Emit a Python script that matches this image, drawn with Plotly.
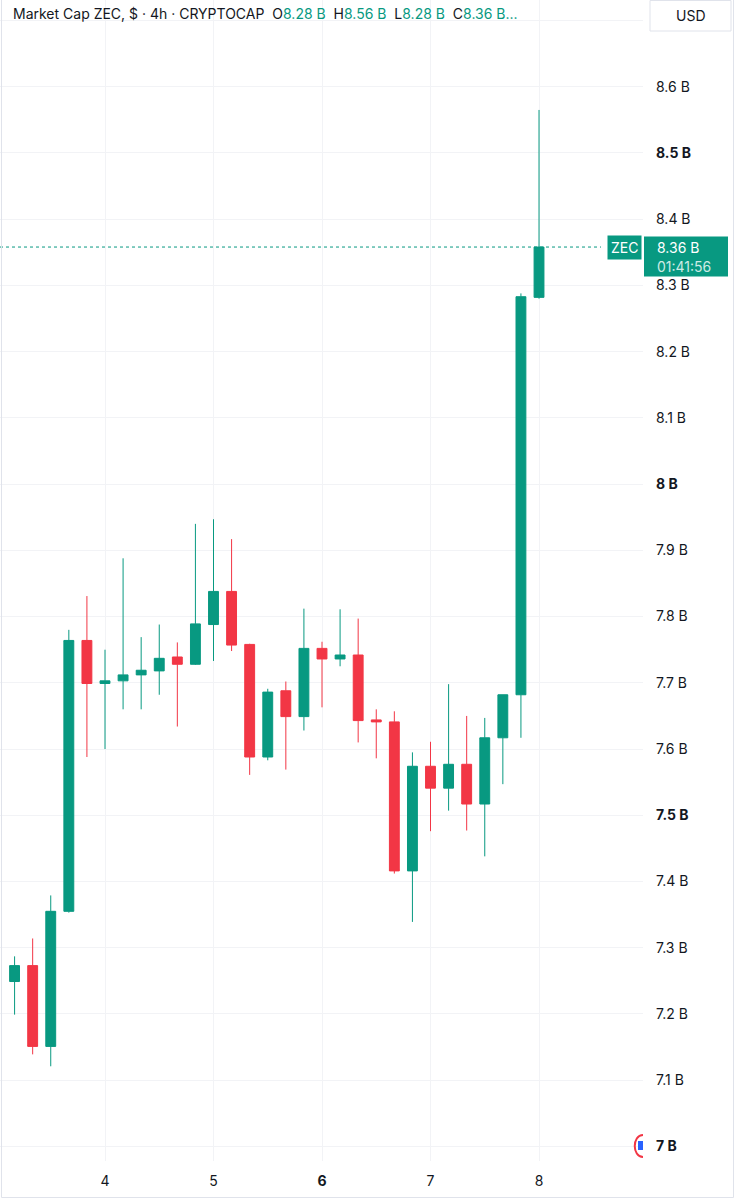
import plotly.graph_objects as go
import pandas as pd

# ---------------- data (values in billions USD) ----------------
start_time = "2025-11-03 04:00"
n_candles = 30
opens = [7.249, 7.273, 7.151, 7.355, 7.764, 7.699, 7.703, 7.712, 7.718, 7.739,
         7.728, 7.788, 7.838, 7.758, 7.588, 7.688, 7.649, 7.752, 7.736, 7.742,
         7.644, 7.641, 7.416, 7.574, 7.541, 7.577, 7.517, 7.617, 7.682, 8.282]
highs = [7.287, 7.314, 7.379, 7.780, 7.831, 7.750, 7.888, 7.769, 7.788, 7.761,
         7.940, 7.947, 7.917, 7.759, 7.691, 7.702, 7.812, 7.762, 7.811, 7.797,
         7.660, 7.657, 7.595, 7.611, 7.698, 7.650, 7.647, 7.682, 8.288, 8.565]
lows = [7.199, 7.139, 7.121, 7.353, 7.588, 7.600, 7.660, 7.660, 7.682, 7.634,
        7.727, 7.733, 7.748, 7.561, 7.583, 7.569, 7.628, 7.663, 7.725, 7.610,
        7.586, 7.412, 7.339, 7.476, 7.507, 7.477, 7.438, 7.547, 7.617, 8.280]
closes = [7.273, 7.151, 7.355, 7.764, 7.699, 7.703, 7.712, 7.719, 7.737, 7.728,
          7.789, 7.838, 7.757, 7.588, 7.686, 7.649, 7.752, 7.736, 7.742, 7.643,
          7.641, 7.416, 7.574, 7.541, 7.577, 7.517, 7.617, 7.682, 8.283, 8.358]

y_tick_vals = [7.0, 7.1, 7.2, 7.3, 7.4, 7.5, 7.6, 7.7, 7.8, 7.9, 8.0, 8.1, 8.2, 8.3, 8.4, 8.5, 8.6, 8.7]
y_tick_text = ["<b>7 B</b>", "7.1 B", "7.2 B", "7.3 B", "7.4 B", "<b>7.5 B</b>", "7.6 B", "7.7 B",
               "7.8 B", "7.9 B", "<b>8 B</b>", "8.1 B", "8.2 B", "8.3 B", "8.4 B", "<b>8.5 B</b>",
               "8.6 B", ""]
x_tick_days = ["2025-11-04", "2025-11-05", "2025-11-06", "2025-11-07", "2025-11-08"]
x_tick_text = ["4", "5", "<b>6</b>", "7", "8"]

header_title = "Market Cap ZEC, $ · 4h · CRYPTOCAP"
header_ohlc = [("O", "8.28 B"), ("H", "8.56 B"), ("L", "8.28 B"), ("C", "8.36 B...")]
last_price = closes[-1]
last_price_text = "8.36 B"
countdown_text = "01:41:56"
symbol_text = "ZEC"
currency_text = "USD"

# ---------------- style ----------------
GREEN = "#089981"
RED = "#F23645"
TEXT = "#131722"
GRID = "#F2F3F6"
FONT = "Inter"

W, H = 735, 1199
PANE_W, PANE_H = 643, 1161
YMIN, YMAX = 6.978, 8.731

times = pd.date_range(pd.Timestamp(start_time), periods=n_candles, freq="4h")
step = pd.Timedelta(hours=4)
x_range = [times[0] - step * 0.806, times[0] + step * 34.75]

fig = go.Figure()
fig.add_trace(go.Candlestick(
    x=times, open=opens, high=highs, low=lows, close=closes,
    increasing=dict(line=dict(color=GREEN, width=1), fillcolor=GREEN),
    decreasing=dict(line=dict(color=RED, width=1), fillcolor=RED),
    whiskerwidth=0, hoverinfo="skip", showlegend=False,
))


def px_x(p):
    return p / PANE_W


def px_y(p):
    return (PANE_H - p) / PANE_H


def val_y(v):
    return (v - YMIN) / (YMAX - YMIN)


shapes = []
# last price dotted line
shapes.append(dict(type="line", xref="paper", yref="y", x0=0, x1=px_x(601), y0=last_price, y1=last_price,
                   line=dict(color=GREEN, width=1, dash="dot"), layer="above"))
# price label background on axis
py = val_y(last_price)
shapes.append(dict(type="rect", xref="paper", yref="paper", x0=px_x(644), x1=px_x(728),
                   y0=py - 29.5 / PANE_H, y1=py + 10.5 / PANE_H, fillcolor=GREEN, line=dict(width=0),
                   layer="above"))
# USD button
ux0, ux1, uy0, uy1 = px_x(650), px_x(731), px_y(31), px_y(0.5)
shapes.append(dict(type="path", xref="paper", yref="paper",
                   path=f"M {ux0},{uy1} L {ux1},{uy1} L {ux1},{uy0} L {ux0},{uy0} Z",
                   fillcolor="white", line=dict(color="#E0E3EB", width=1), layer="above"))
# outer border (left / bottom / right)
shapes.append(dict(type="path", xref="paper", yref="paper",
                   path=f"M {px_x(1.5)},{px_y(0)} L {px_x(1.5)},{px_y(1197.5)} L {px_x(733.5)},{px_y(1197.5)} L {px_x(733.5)},{px_y(0)}",
                   line=dict(color="#E0E3EB", width=1), layer="above"))
# partial logo at bottom right of pane
shapes.append(dict(type="path", xref="paper", yref="paper",
                   path=f"M {px_x(643)},{px_y(1135)} C {px_x(632)},{px_y(1135)} {px_x(632)},{px_y(1157)} {px_x(643)},{px_y(1157)}",
                   line=dict(color=RED, width=2), layer="above"))
shapes.append(dict(type="rect", xref="paper", yref="paper", x0=px_x(638), x1=px_x(643),
                   y0=px_y(1150), y1=px_y(1141), fillcolor="#2962FF", line=dict(width=0), layer="above"))

header = header_title + "\u00a0\u00a0"
header += "\u00a0\u00a0".join(f"{k}<span style='color:{GREEN}'>{v}</span>" for k, v in header_ohlc)

annotations = [
    dict(xref="paper", yref="paper", x=px_x(11), y=px_y(14), xanchor="left", yanchor="middle",
         text=header, showarrow=False, font=dict(family=FONT, size=14, color=TEXT)),
    dict(xref="paper", yref="paper", x=px_x(690.5), y=px_y(15.5), xanchor="center", yanchor="middle",
         text=currency_text, showarrow=False, font=dict(family=FONT, size=14, color=TEXT)),
    dict(xref="paper", yref="y", x=px_x(642), y=last_price, xanchor="right", yanchor="middle",
         text=symbol_text, showarrow=False, bgcolor=GREEN, borderpad=3,
         font=dict(family=FONT, size=14, color="white")),
    dict(xref="paper", yref="paper", x=px_x(655), y=py + 0 / PANE_H, xanchor="left", yanchor="middle",
         text=last_price_text, showarrow=False, font=dict(family=FONT, size=14, color="white")),
    dict(xref="paper", yref="paper", x=px_x(655), y=py - 19 / PANE_H, xanchor="left", yanchor="middle",
         text=countdown_text, showarrow=False, font=dict(family=FONT, size=14, color="#CDEBE5")),
]

fig.update_layout(
    width=W, height=H,
    margin=dict(l=0, r=W - PANE_W, t=0, b=H - PANE_H, pad=0),
    paper_bgcolor="white", plot_bgcolor="white",
    boxgap=0.22,
    showlegend=False,
    hovermode=False,
    font=dict(family=FONT, size=14, color=TEXT),
    shapes=shapes, annotations=annotations,
    xaxis=dict(type="date", range=x_range, rangeslider=dict(visible=False),
               tickvals=x_tick_days, ticktext=x_tick_text, ticks="", ticklabelstandoff=10,
               showgrid=True, gridcolor=GRID, gridwidth=1, zeroline=False, showline=False,
               tickfont=dict(family=FONT, size=14, color=TEXT), fixedrange=True),
    yaxis=dict(side="right", range=[YMIN, YMAX], tickvals=y_tick_vals, ticktext=y_tick_text,
               ticks="", ticklabelstandoff=12, showgrid=True, gridcolor=GRID, gridwidth=1,
               zeroline=False, showline=False, tickfont=dict(family=FONT, size=14, color=TEXT),
               fixedrange=True),
)

fig.write_html("out.html")
